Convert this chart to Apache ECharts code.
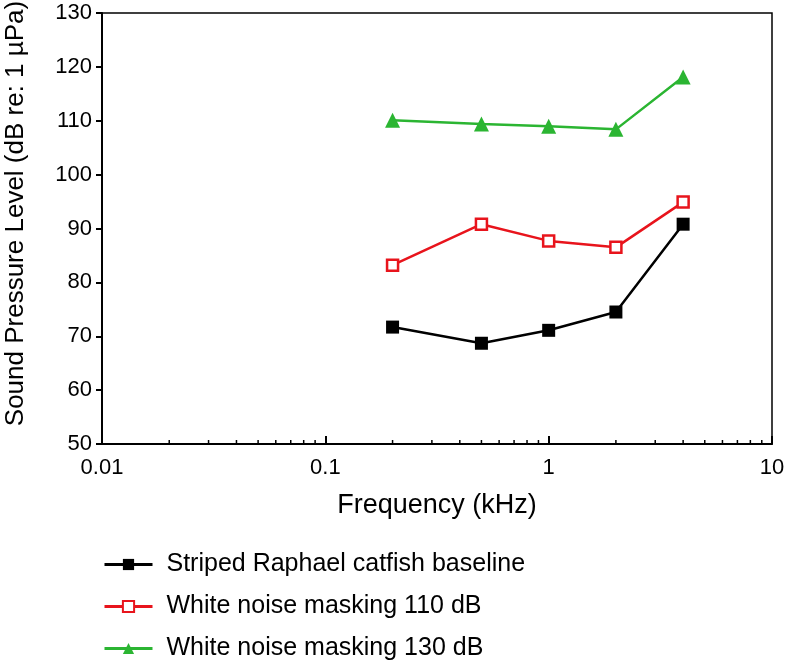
<!DOCTYPE html>
<html><head><meta charset="utf-8">
<script src="https://cdn.jsdelivr.net/npm/echarts@6/dist/echarts.min.js"></script>
<style>html,body{margin:0;padding:0;background:#fff}#c{width:787px;height:660px}</style>
</head><body><div id="c"></div>
<script>
const frequencies = [0.2, 0.5, 1, 2, 4];
const baseline = [71.7, 68.7, 71.1, 74.5, 90.8];
const mask110 = [83.2, 90.8, 87.7, 86.5, 94.9];
const mask130 = [110.1, 109.4, 109.0, 108.4, 118.1];
const seriesNames = ['Striped Raphael catfish baseline', 'White noise masking 110 dB', 'White noise masking 130 dB'];
const minorTicks = [0.02,0.03,0.04,0.05,0.06,0.07,0.08,0.09,0.2,0.3,0.4,0.5,0.6,0.7,0.8,0.9,2,3,4,5,6,7,8,9];
const yMin = 50, yMax = 130;

const font = '"Liberation Sans", Arial, Helvetica, sans-serif';
const pair = (xs, ys) => xs.map((x, i) => [x, ys[i]]);

const legendTops = [552, 594, 636];
const legends = seriesNames.map((n, i) => ({
  orient: 'vertical', left: 103, top: legendTops[i], padding: 0,
  itemWidth: 48, itemHeight: 14, itemGap: 0,
  lineStyle: { width: 3 },
  textStyle: { fontFamily: font, fontSize: 25, color: '#000', padding: [0, 0, 0, 9] },
  data: [n]
}));

const chart = echarts.init(document.getElementById('c'));
chart.setOption({
  animation: false,
  grid: { left: 102, right: 15, top: 13, bottom: 216, outerBoundsMode: 'none', containLabel: false, show: true, borderColor: '#000', borderWidth: 1.5, backgroundColor: 'transparent' },
  xAxis: {
    type: 'log', logBase: 10, min: 0.01, max: 10,
    name: 'Frequency (kHz)', nameLocation: 'middle', nameGap: 48,
    nameTextStyle: { fontFamily: font, fontSize: 27, color: '#000' },
    axisLine: { lineStyle: { color: '#000', width: 2 } },
    axisTick: { inside: true, length: 8, lineStyle: { color: '#000', width: 2 } },
    axisLabel: { fontFamily: font, fontSize: 22, color: '#000', margin: 13 },
    splitLine: { show: false }
  },
  yAxis: {
    type: 'value', min: yMin, max: yMax, interval: 10,
    name: 'Sound Pressure Level (dB re: 1 µPa)', nameLocation: 'middle', nameGap: 73,
    nameTextStyle: { fontFamily: font, fontSize: 26, color: '#000', padding: [0, 0, 0, 30] },
    axisLine: { show: true, lineStyle: { color: '#000', width: 2 } },
    axisTick: { show: true, length: 6, lineStyle: { color: '#000', width: 2 } },
    axisLabel: { fontFamily: font, fontSize: 22, color: '#000', margin: 10 },
    splitLine: { show: false }
  },
  legend: legends,
  series: [
    {
      type: 'custom', silent: true, data: minorTicks.map(v => [v]),
      encode: { x: 0 },
      renderItem: (params, api) => {
        const p = api.coord([api.value(0), yMin]);
        return { type: 'line', shape: { x1: p[0], y1: p[1], x2: p[0], y2: p[1] - 4 }, style: { stroke: '#000', lineWidth: 1.5 } };
      },
      z: 5
    },
    {
      name: seriesNames[0], type: 'line', data: pair(frequencies, baseline),
      symbol: 'rect', symbolSize: 13,
      lineStyle: { color: '#000', width: 2.5 }, itemStyle: { color: '#000' }
    },
    {
      name: seriesNames[1], type: 'line', data: pair(frequencies, mask110),
      symbol: 'rect', symbolSize: 11,
      lineStyle: { color: '#e8141c', width: 2.5 }, itemStyle: { color: '#fff', borderColor: '#e8141c', borderWidth: 2.5 }
    },
    {
      name: seriesNames[2], type: 'line', data: pair(frequencies, mask130),
      symbol: 'triangle', symbolSize: 15,
      lineStyle: { color: '#2bb532', width: 2.5 }, itemStyle: { color: '#2bb532' }
    }
  ]
});
</script></body></html>
